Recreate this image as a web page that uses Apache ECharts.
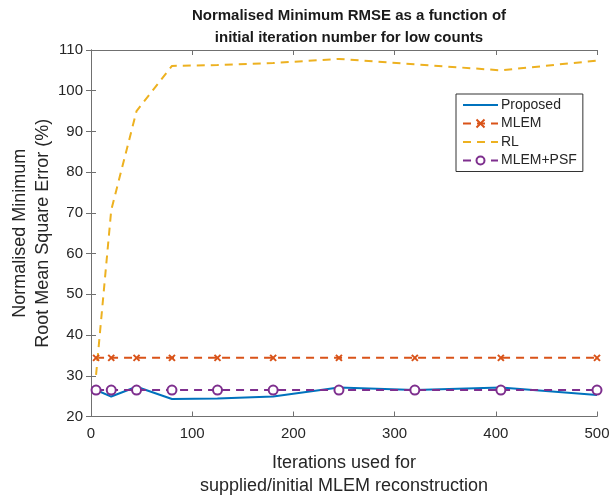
<!DOCTYPE html>
<html>
<head>
<meta charset="utf-8">
<script src="https://cdn.jsdelivr.net/npm/echarts@6/dist/echarts.min.js"></script>
<style>
  html, body { margin: 0; padding: 0; background: #fff; }
  #chart { width: 613px; height: 498px; }
</style>
</head>
<body>
<div id="chart"></div>
<script>
  // iteration numbers used for the initial MLEM reconstruction
  var iterations = [5, 20, 45, 80, 125, 180, 245, 320, 405, 500];
  var proposed = [26.5, 24.9, 27.3, 24.3, 24.4, 24.9, 27.1, 26.5, 27.1, 25.3];
  var mlem = [34.4, 34.4, 34.4, 34.4, 34.4, 34.4, 34.4, 34.4, 34.4, 34.4];
  var rl = [30.2, 70.7, 95.0, 106.1, 106.3, 106.8, 107.8, 106.5, 105.0, 107.4];
  var mlemPsf = [26.5, 26.5, 26.5, 26.5, 26.5, 26.5, 26.5, 26.5, 26.5, 26.5];
  var xTicks = [0, 100, 200, 300, 400, 500];
  var yTicks = [20, 30, 40, 50, 60, 70, 80, 90, 100, 110];

  function pairs(ys) {
    return iterations.map(function (x, i) { return [x, ys[i]]; });
  }

  var font = 'Liberation Sans, Arial, Helvetica, sans-serif';
  var axisColor = '#707070';
  var textColor = '#262626';

  var chart = echarts.init(document.getElementById('chart'));

  var baseX = {
    type: 'value',
    min: xTicks[0],
    max: xTicks[xTicks.length - 1],
    interval: 100,
    axisLine: { show: true, lineStyle: { color: axisColor, width: 1 } },
    axisTick: { show: true, inside: true, length: 5, lineStyle: { color: axisColor } },
    splitLine: { show: false }
  };
  var baseY = {
    type: 'value',
    min: yTicks[0],
    max: yTicks[yTicks.length - 1],
    interval: 10,
    axisLine: { show: true, lineStyle: { color: axisColor, width: 1 } },
    axisTick: { show: true, inside: true, length: 5, lineStyle: { color: axisColor } },
    splitLine: { show: false }
  };

  // hide the dot that the legend draws for series without markers
  var noDot = { color: 'transparent', borderColor: 'transparent', borderWidth: 0 };

  chart.setOption({
    animation: false,
    backgroundColor: '#fff',
    title: {
      text: 'Normalised Minimum RMSE as a function of\ninitial iteration number for low counts',
      left: 344,
      top: 0,
      textAlign: 'center',
      textStyle: { fontFamily: font, fontSize: 15, fontWeight: 'bold', color: '#1a1a1a', lineHeight: 22 }
    },
    grid: { left: 91, right: 16, top: 50, bottom: 81.5, containLabel: false, outerBoundsMode: 'none' },
    legend: {
      orient: 'vertical',
      left: 456,
      top: 94,
      itemWidth: 35,
      itemHeight: 10,
      itemGap: 4.5,
      padding: [4, 6, 4, 6],
      borderColor: '#333',
      borderWidth: 1,
      borderRadius: 0,
      backgroundColor: '#fff',
      textStyle: { fontFamily: font, fontSize: 14, color: textColor, padding: [0, 0, 0, -2] },
      data: [
        { name: 'Proposed', itemStyle: noDot },
        { name: 'MLEM' },
        { name: 'RL', itemStyle: noDot },
        { name: 'MLEM+PSF' }
      ]
    },
    xAxis: [
      Object.assign({}, baseX, {
        position: 'bottom',
        axisLabel: { fontFamily: font, fontSize: 15, color: textColor, margin: 10 },
        name: 'Iterations used for\nsupplied/initial MLEM reconstruction',
        nameLocation: 'middle',
        nameGap: 35,
        nameMoveOverlap: false,
        nameTextStyle: { fontFamily: font, fontSize: 18, color: textColor, lineHeight: 23 }
      }),
      Object.assign({}, baseX, { position: 'top', axisLabel: { show: false } })
    ],
    yAxis: [
      Object.assign({}, baseY, {
        position: 'left',
        axisLabel: { fontFamily: font, fontSize: 15, color: textColor, margin: 8 },
        name: 'Normalised Minimum\nRoot Mean Square Error (%)',
        nameLocation: 'middle',
        nameGap: 36,
        nameMoveOverlap: false,
        nameTextStyle: { fontFamily: font, fontSize: 18, color: textColor, lineHeight: 23 }
      }),
      Object.assign({}, baseY, { position: 'right', axisLabel: { show: false } })
    ],
    series: [
      {
        name: 'Proposed',
        type: 'line',
        data: pairs(proposed),
        showSymbol: false,
        symbol: 'none',
        lineStyle: { color: '#0072BD', width: 2 },
        itemStyle: { color: '#0072BD' }
      },
      {
        name: 'MLEM',
        type: 'line',
        data: pairs(mlem),
        symbol: 'path://M0,0L10,10M10,0L0,10',
        symbolSize: 6,
        lineStyle: { color: '#D95319', width: 2, type: [8, 6] },
        itemStyle: { color: 'none', borderColor: '#D95319', borderWidth: 2 }
      },
      {
        name: 'RL',
        type: 'line',
        data: pairs(rl),
        symbol: 'none',
        lineStyle: { color: '#EDB120', width: 2, type: [8, 6] },
        itemStyle: { color: '#EDB120' }
      },
      {
        name: 'MLEM+PSF',
        type: 'line',
        data: pairs(mlemPsf),
        symbol: 'emptyCircle',
        symbolSize: 9,
        lineStyle: { color: '#7E2F8E', width: 2, type: [8, 6] },
        itemStyle: { color: '#7E2F8E', borderColor: '#7E2F8E', borderWidth: 2 }
      }
    ]
  });
</script>
</body>
</html>
